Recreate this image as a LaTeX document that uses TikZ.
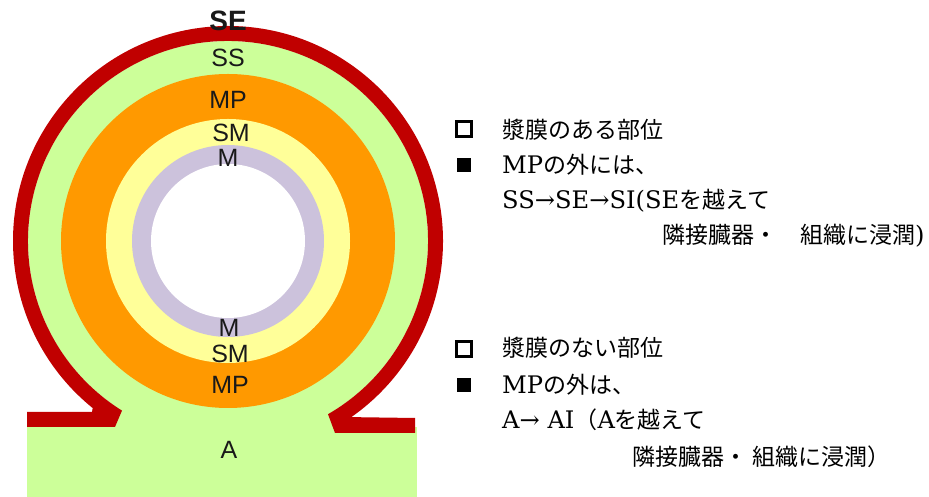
\documentclass[tikz,border=0pt]{standalone}
\usepackage{fontspec}
\setmainfont{DejaVu Serif}[Scale=1.05]
\newfontfamily\jp{Noto Sans CJK JP}
\newfontfamily\lbl{Liberation Sans}
\usetikzlibrary{calc}
\definecolor{redSE}{RGB}{192,0,0}
\definecolor{greenSS}{RGB}{204,255,153}
\definecolor{orangeMP}{RGB}{255,153,0}
\definecolor{yellowSM}{RGB}{255,255,153}
\definecolor{grayM}{RGB}{204,194,220}
\tikzset{
  layer/.style={font=\lbl\fontsize{25}{25}\selectfont, text=black!90, inner sep=0pt},
  line/.style={anchor=base west, inner sep=0pt, font=\fontsize{23}{28}\selectfont},
  openbox/.style={draw, line width=2.8pt, minimum size=15pt, inner sep=0pt},
  fullbox/.style={fill, minimum size=14pt, inner sep=0pt}
}
\begin{document}
\begin{tikzpicture}[x=1pt,y=1pt]
\useasboundingbox (0,0) rectangle (929,497);
\coordinate (O) at (228,256);
% A and the neck
\fill [greenSS] (27,0) rectangle (417,70);
\fill [greenSS] (115,60) rectangle (335,95);
% SS
\fill [greenSS] (O) circle (200);
% SE
\fill [redSE] (27,70) -- (27,85) -- (92,85) -- ($(O)+(231:215)$) arc [start angle=231, end angle=-55, radius=215]
  -- (415,79) -- (415,64) -- (335,64) -- ($(O)+(-60:200)$) arc [start angle=-60, end angle=238, radius=200]
  -- (115,70) -- cycle;
% MP, SM, M
\fill [orangeMP] (O) circle (167);
\fill [yellowSM] (O) circle (122);
\fill [grayM] (O) circle (96);
\fill [white] (O) circle (77);
% layer names
\node [layer, font=\lbl\bfseries\fontsize{28}{28}\selectfont] (SE) at (228,476) {SE};
\node [layer] (SS) at (228,439) {SS};
\node [layer] (MPtop) at (228,397) {MP};
\node [layer] (SMtop) at (231,364) {SM};
\node [layer] (Mtop) at (228,339) {M};
\node [layer] (Mbot) at (229,169) {M};
\node [layer] (SMbot) at (230,143) {SM};
\node [layer] (MPbot) at (230,112) {MP};
\node [layer] (A) at (229,47) {A};
% with serosa
\node [openbox] (box1) at (464,368) {};
\node [fullbox] (dot1) at (464,332) {};
\node [line] (t1) at (502,358) {\jp 漿膜のある部位};
\node [line] (t2) at (502,323) {MP{\jp の外には、}};
\node [line] (t3) at (502,288) {SS→SE→SI(SE{\jp を越えて}};
\node [line] (t4) at (662,253) {{\jp 隣接臓器・　組織に浸潤})};
% without serosa
\node [openbox] (box2) at (464,148) {};
\node [fullbox] (dot2) at (464,112) {};
\node [line] (t5) at (502,140) {\jp 漿膜のない部位};
\node [line] (t6) at (502,103) {MP{\jp の外は、}};
\node [line] (t7) at (502,68) {A→ AI{\jp （}A{\jp を越えて}};
\node [line] (t8) at (632,31) {\jp 隣接臓器・ 組織に浸潤）};
\end{tikzpicture}
\end{document}
